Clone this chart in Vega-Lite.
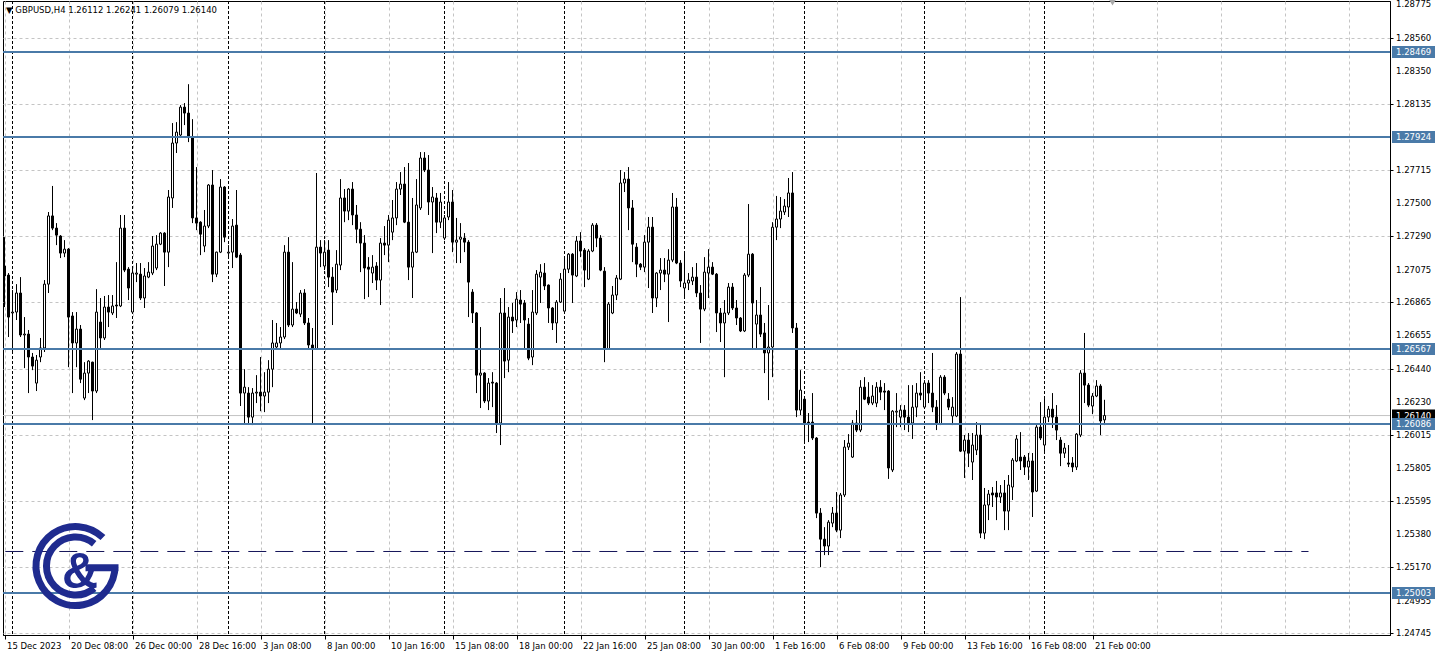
{
"$schema": "https://vega.github.io/schema/vega-lite/v6.json",
"width": 1387, "height": 634,
"autosize": {"type": "none"},
"padding": {"left": 3, "top": 1, "right": 49, "bottom": 22},
"background": "white",
"config": {"view": {"stroke": "black", "strokeWidth": 1}, "font": "DejaVu Sans"},
"datasets": {
"candles": [
{"i":0,"o":1.27098,"h":1.27283,"l":1.26835,"c":1.27034},
{"i":1,"o":1.27040,"h":1.27053,"l":1.26643,"c":1.26771},
{"i":2,"o":1.26797,"h":1.26944,"l":1.26547,"c":1.26803},
{"i":3,"o":1.26803,"h":1.26982,"l":1.26752,"c":1.26925},
{"i":4,"o":1.26925,"h":1.27027,"l":1.26643,"c":1.26656},
{"i":5,"o":1.26656,"h":1.26771,"l":1.26444,"c":1.26662},
{"i":6,"o":1.26662,"h":1.26688,"l":1.26284,"c":1.26515},
{"i":7,"o":1.26515,"h":1.26541,"l":1.26431,"c":1.26457},
{"i":8,"o":1.26348,"h":1.26528,"l":1.26297,"c":1.26495},
{"i":9,"o":1.26515,"h":1.26637,"l":1.26482,"c":1.26573},
{"i":10,"o":1.26573,"h":1.27008,"l":1.26547,"c":1.26982},
{"i":11,"o":1.26982,"h":1.27444,"l":1.26925,"c":1.27419},
{"i":12,"o":1.27419,"h":1.27611,"l":1.27328,"c":1.27341},
{"i":13,"o":1.27341,"h":1.27373,"l":1.27232,"c":1.27296},
{"i":14,"o":1.27290,"h":1.27296,"l":1.27149,"c":1.27181},
{"i":15,"o":1.27181,"h":1.27264,"l":1.27155,"c":1.27206},
{"i":16,"o":1.27206,"h":1.27213,"l":1.26450,"c":1.26771},
{"i":17,"o":1.26778,"h":1.26803,"l":1.26284,"c":1.26605},
{"i":18,"o":1.26605,"h":1.26803,"l":1.26450,"c":1.26694},
{"i":19,"o":1.26694,"h":1.26720,"l":1.26348,"c":1.26373},
{"i":20,"o":1.26252,"h":1.26482,"l":1.26239,"c":1.26412},
{"i":21,"o":1.26412,"h":1.26495,"l":1.26284,"c":1.26489},
{"i":22,"o":1.26482,"h":1.26485,"l":1.26111,"c":1.26297},
{"i":23,"o":1.26297,"h":1.26950,"l":1.26284,"c":1.26803},
{"i":24,"o":1.26739,"h":1.26893,"l":1.26573,"c":1.26637},
{"i":25,"o":1.26637,"h":1.26906,"l":1.26624,"c":1.26835},
{"i":26,"o":1.26835,"h":1.26912,"l":1.26707,"c":1.26803},
{"i":27,"o":1.26797,"h":1.26912,"l":1.26784,"c":1.26842},
{"i":28,"o":1.26848,"h":1.27123,"l":1.26765,"c":1.26842},
{"i":29,"o":1.26842,"h":1.27425,"l":1.26835,"c":1.27341},
{"i":30,"o":1.27341,"h":1.27425,"l":1.27059,"c":1.27072},
{"i":31,"o":1.27078,"h":1.27091,"l":1.26880,"c":1.26957},
{"i":32,"o":1.26803,"h":1.27091,"l":1.26797,"c":1.27053},
{"i":33,"o":1.27046,"h":1.27117,"l":1.26995,"c":1.27053},
{"i":34,"o":1.27046,"h":1.27117,"l":1.26880,"c":1.26893},
{"i":35,"o":1.26893,"h":1.27085,"l":1.26829,"c":1.27034},
{"i":36,"o":1.27027,"h":1.27123,"l":1.27020,"c":1.27059},
{"i":37,"o":1.27053,"h":1.27290,"l":1.27040,"c":1.27226},
{"i":38,"o":1.27085,"h":1.27296,"l":1.27072,"c":1.27238},
{"i":39,"o":1.27238,"h":1.27315,"l":1.27232,"c":1.27309},
{"i":40,"o":1.27309,"h":1.27315,"l":1.26970,"c":1.27187},
{"i":41,"o":1.27187,"h":1.27585,"l":1.27091,"c":1.27540},
{"i":42,"o":1.27534,"h":1.28014,"l":1.27470,"c":1.27886},
{"i":43,"o":1.27886,"h":1.28020,"l":1.27822,"c":1.27956},
{"i":44,"o":1.27937,"h":1.28129,"l":1.27924,"c":1.28116},
{"i":45,"o":1.28116,"h":1.28142,"l":1.28001,"c":1.28078},
{"i":46,"o":1.28078,"h":1.28263,"l":1.27892,"c":1.27924},
{"i":47,"o":1.27924,"h":1.28039,"l":1.27373,"c":1.27406},
{"i":48,"o":1.27406,"h":1.27732,"l":1.27328,"c":1.27373},
{"i":49,"o":1.27379,"h":1.27385,"l":1.27168,"c":1.27302},
{"i":50,"o":1.27226,"h":1.27457,"l":1.27187,"c":1.27354},
{"i":51,"o":1.27354,"h":1.27623,"l":1.27341,"c":1.27617},
{"i":52,"o":1.27617,"h":1.27713,"l":1.26995,"c":1.27046},
{"i":53,"o":1.27046,"h":1.27190,"l":1.27027,"c":1.27187},
{"i":54,"o":1.27187,"h":1.27655,"l":1.27181,"c":1.27604},
{"i":55,"o":1.27604,"h":1.27610,"l":1.27251,"c":1.27283},
{"i":56,"o":1.27181,"h":1.27232,"l":1.27149,"c":1.27187},
{"i":57,"o":1.27187,"h":1.27399,"l":1.27085,"c":1.27354},
{"i":58,"o":1.27360,"h":1.27585,"l":1.27149,"c":1.27155},
{"i":59,"o":1.27168,"h":1.27181,"l":1.26201,"c":1.26284},
{"i":60,"o":1.26284,"h":1.26437,"l":1.26092,"c":1.26322},
{"i":61,"o":1.26284,"h":1.26322,"l":1.26092,"c":1.26130},
{"i":62,"o":1.26130,"h":1.26316,"l":1.26079,"c":1.26284},
{"i":63,"o":1.26284,"h":1.26399,"l":1.26220,"c":1.26290},
{"i":64,"o":1.26290,"h":1.26515,"l":1.26168,"c":1.26265},
{"i":65,"o":1.26265,"h":1.26418,"l":1.26162,"c":1.26290},
{"i":66,"o":1.26290,"h":1.26495,"l":1.26220,"c":1.26437},
{"i":67,"o":1.26437,"h":1.26752,"l":1.26322,"c":1.26605},
{"i":68,"o":1.26579,"h":1.26733,"l":1.26560,"c":1.26605},
{"i":69,"o":1.26605,"h":1.26707,"l":1.26560,"c":1.26643},
{"i":70,"o":1.26643,"h":1.27232,"l":1.26630,"c":1.27187},
{"i":71,"o":1.27187,"h":1.27283,"l":1.26707,"c":1.26720},
{"i":72,"o":1.26720,"h":1.27123,"l":1.26707,"c":1.26822},
{"i":73,"o":1.26822,"h":1.26867,"l":1.26790,"c":1.26797},
{"i":74,"o":1.26790,"h":1.26944,"l":1.26771,"c":1.26925},
{"i":75,"o":1.26925,"h":1.26950,"l":1.26720,"c":1.26733},
{"i":76,"o":1.26733,"h":1.26765,"l":1.26560,"c":1.26592},
{"i":77,"o":1.26592,"h":1.26701,"l":1.26092,"c":1.26566},
{"i":78,"o":1.26566,"h":1.27694,"l":1.26560,"c":1.27219},
{"i":79,"o":1.27219,"h":1.27264,"l":1.27091,"c":1.27181},
{"i":80,"o":1.27098,"h":1.27264,"l":1.27072,"c":1.27187},
{"i":81,"o":1.27200,"h":1.27264,"l":1.26963,"c":1.27027},
{"i":82,"o":1.27027,"h":1.27091,"l":1.26720,"c":1.26931},
{"i":83,"o":1.26944,"h":1.27200,"l":1.26925,"c":1.27110},
{"i":84,"o":1.27104,"h":1.27655,"l":1.27072,"c":1.27534},
{"i":85,"o":1.27534,"h":1.27591,"l":1.27379,"c":1.27450},
{"i":86,"o":1.27450,"h":1.27597,"l":1.27392,"c":1.27591},
{"i":87,"o":1.27591,"h":1.27636,"l":1.27360,"c":1.27425},
{"i":88,"o":1.27425,"h":1.27489,"l":1.27245,"c":1.27334},
{"i":89,"o":1.27334,"h":1.27379,"l":1.27059,"c":1.27245},
{"i":90,"o":1.27245,"h":1.27296,"l":1.26886,"c":1.27085},
{"i":91,"o":1.27091,"h":1.27155,"l":1.26899,"c":1.27078},
{"i":92,"o":1.27053,"h":1.27168,"l":1.26989,"c":1.27091},
{"i":93,"o":1.27098,"h":1.27123,"l":1.26944,"c":1.27008},
{"i":94,"o":1.27008,"h":1.27277,"l":1.26848,"c":1.27245},
{"i":95,"o":1.27245,"h":1.27354,"l":1.27168,"c":1.27232},
{"i":96,"o":1.27232,"h":1.27425,"l":1.27123,"c":1.27392},
{"i":97,"o":1.27315,"h":1.27521,"l":1.27264,"c":1.27406},
{"i":98,"o":1.27406,"h":1.27636,"l":1.27360,"c":1.27591},
{"i":99,"o":1.27591,"h":1.27700,"l":1.27553,"c":1.27623},
{"i":100,"o":1.27623,"h":1.27732,"l":1.27373,"c":1.27379},
{"i":101,"o":1.27379,"h":1.27758,"l":1.27008,"c":1.27091},
{"i":102,"o":1.27091,"h":1.27534,"l":1.26893,"c":1.27187},
{"i":103,"o":1.27187,"h":1.27655,"l":1.27181,"c":1.27489},
{"i":104,"o":1.27470,"h":1.27828,"l":1.27457,"c":1.27790},
{"i":105,"o":1.27790,"h":1.27828,"l":1.27700,"c":1.27713},
{"i":106,"o":1.27713,"h":1.27809,"l":1.27425,"c":1.27508},
{"i":107,"o":1.27508,"h":1.27604,"l":1.27181,"c":1.27540},
{"i":108,"o":1.27534,"h":1.27566,"l":1.27309,"c":1.27379},
{"i":109,"o":1.27379,"h":1.27566,"l":1.27341,"c":1.27508},
{"i":110,"o":1.27277,"h":1.27425,"l":1.27264,"c":1.27406},
{"i":111,"o":1.27412,"h":1.27636,"l":1.27392,"c":1.27508},
{"i":112,"o":1.27508,"h":1.27585,"l":1.27187,"c":1.27251},
{"i":113,"o":1.27251,"h":1.27406,"l":1.27117,"c":1.27264},
{"i":114,"o":1.27270,"h":1.27373,"l":1.27117,"c":1.27283},
{"i":115,"o":1.27277,"h":1.27309,"l":1.27187,"c":1.27251},
{"i":116,"o":1.27251,"h":1.27264,"l":1.26771,"c":1.26995},
{"i":117,"o":1.26931,"h":1.26950,"l":1.26733,"c":1.26797},
{"i":118,"o":1.26797,"h":1.26803,"l":1.26284,"c":1.26399},
{"i":119,"o":1.26399,"h":1.26707,"l":1.26188,"c":1.26412},
{"i":120,"o":1.26412,"h":1.26418,"l":1.26220,"c":1.26233},
{"i":121,"o":1.26233,"h":1.26380,"l":1.26175,"c":1.26348},
{"i":122,"o":1.26354,"h":1.26418,"l":1.26194,"c":1.26348},
{"i":123,"o":1.26348,"h":1.26354,"l":1.26028,"c":1.26092},
{"i":124,"o":1.26092,"h":1.26893,"l":1.25951,"c":1.26797},
{"i":125,"o":1.26797,"h":1.26957,"l":1.26380,"c":1.26489},
{"i":126,"o":1.26495,"h":1.26835,"l":1.26418,"c":1.26771},
{"i":127,"o":1.26771,"h":1.26861,"l":1.26669,"c":1.26746},
{"i":128,"o":1.26752,"h":1.26931,"l":1.26707,"c":1.26886},
{"i":129,"o":1.26880,"h":1.26944,"l":1.26733,"c":1.26854},
{"i":130,"o":1.26861,"h":1.26880,"l":1.26560,"c":1.26752},
{"i":131,"o":1.26726,"h":1.26765,"l":1.26495,"c":1.26508},
{"i":132,"o":1.26515,"h":1.26944,"l":1.26463,"c":1.26803},
{"i":133,"o":1.26797,"h":1.27072,"l":1.26784,"c":1.27046},
{"i":134,"o":1.27027,"h":1.27110,"l":1.26861,"c":1.27059},
{"i":135,"o":1.27053,"h":1.27117,"l":1.26944,"c":1.26970},
{"i":136,"o":1.26976,"h":1.26980,"l":1.26733,"c":1.26829},
{"i":137,"o":1.26829,"h":1.26835,"l":1.26688,"c":1.26733},
{"i":138,"o":1.26733,"h":1.26880,"l":1.26605,"c":1.26867},
{"i":139,"o":1.26867,"h":1.27053,"l":1.26861,"c":1.27014},
{"i":140,"o":1.26809,"h":1.27155,"l":1.26803,"c":1.27078},
{"i":141,"o":1.27078,"h":1.27181,"l":1.27053,"c":1.27174},
{"i":142,"o":1.27174,"h":1.27181,"l":1.26861,"c":1.27040},
{"i":143,"o":1.27034,"h":1.27290,"l":1.27027,"c":1.27258},
{"i":144,"o":1.27258,"h":1.27315,"l":1.27155,"c":1.27194},
{"i":145,"o":1.27200,"h":1.27213,"l":1.26963,"c":1.27072},
{"i":146,"o":1.27014,"h":1.27206,"l":1.27008,"c":1.27194},
{"i":147,"o":1.27194,"h":1.27373,"l":1.27187,"c":1.27360},
{"i":148,"o":1.27360,"h":1.27373,"l":1.27219,"c":1.27277},
{"i":149,"o":1.27277,"h":1.27296,"l":1.27065,"c":1.27072},
{"i":150,"o":1.27065,"h":1.27091,"l":1.26482,"c":1.26566},
{"i":151,"o":1.26566,"h":1.26867,"l":1.26560,"c":1.26854},
{"i":152,"o":1.26797,"h":1.26970,"l":1.26790,"c":1.26912},
{"i":153,"o":1.26912,"h":1.27040,"l":1.26880,"c":1.27021},
{"i":154,"o":1.27014,"h":1.27713,"l":1.27008,"c":1.27630},
{"i":155,"o":1.27630,"h":1.27700,"l":1.27572,"c":1.27655},
{"i":156,"o":1.27655,"h":1.27732,"l":1.27328,"c":1.27470},
{"i":157,"o":1.27470,"h":1.27521,"l":1.27123,"c":1.27238},
{"i":158,"o":1.27219,"h":1.27245,"l":1.27027,"c":1.27110},
{"i":159,"o":1.27110,"h":1.27117,"l":1.27072,"c":1.27091},
{"i":160,"o":1.27091,"h":1.27296,"l":1.27059,"c":1.27251},
{"i":161,"o":1.27251,"h":1.27412,"l":1.26957,"c":1.27347},
{"i":162,"o":1.27347,"h":1.27412,"l":1.26797,"c":1.26893},
{"i":163,"o":1.26893,"h":1.27059,"l":1.26835,"c":1.27053},
{"i":164,"o":1.27053,"h":1.27149,"l":1.26944,"c":1.27072},
{"i":165,"o":1.27072,"h":1.27149,"l":1.26995,"c":1.27046},
{"i":166,"o":1.27046,"h":1.27206,"l":1.26739,"c":1.27136},
{"i":167,"o":1.27136,"h":1.27566,"l":1.27123,"c":1.27476},
{"i":168,"o":1.27476,"h":1.27534,"l":1.27110,"c":1.27117},
{"i":169,"o":1.27117,"h":1.27136,"l":1.26963,"c":1.27002},
{"i":170,"o":1.26957,"h":1.27181,"l":1.26899,"c":1.26989},
{"i":171,"o":1.26989,"h":1.27053,"l":1.26944,"c":1.27008},
{"i":172,"o":1.27002,"h":1.27091,"l":1.26976,"c":1.27027},
{"i":173,"o":1.27027,"h":1.27117,"l":1.26899,"c":1.26925},
{"i":174,"o":1.26925,"h":1.26976,"l":1.26605,"c":1.26822},
{"i":175,"o":1.26822,"h":1.27155,"l":1.26809,"c":1.27059},
{"i":176,"o":1.27053,"h":1.27206,"l":1.26893,"c":1.27091},
{"i":177,"o":1.27091,"h":1.27123,"l":1.27040,"c":1.27046},
{"i":178,"o":1.27046,"h":1.27053,"l":1.26675,"c":1.26797},
{"i":179,"o":1.26797,"h":1.26829,"l":1.26611,"c":1.26733},
{"i":180,"o":1.26733,"h":1.26880,"l":1.26386,"c":1.26797},
{"i":181,"o":1.26797,"h":1.26989,"l":1.26784,"c":1.26963},
{"i":182,"o":1.26963,"h":1.26989,"l":1.26816,"c":1.26829},
{"i":183,"o":1.26829,"h":1.26880,"l":1.26720,"c":1.26765},
{"i":184,"o":1.26765,"h":1.26771,"l":1.26675,"c":1.26682},
{"i":185,"o":1.26682,"h":1.27053,"l":1.26675,"c":1.27040},
{"i":186,"o":1.27040,"h":1.27495,"l":1.27027,"c":1.27174},
{"i":187,"o":1.27174,"h":1.27181,"l":1.26560,"c":1.26861},
{"i":188,"o":1.26726,"h":1.26880,"l":1.26560,"c":1.26784},
{"i":189,"o":1.26784,"h":1.26963,"l":1.26643,"c":1.26662},
{"i":190,"o":1.26669,"h":1.26733,"l":1.26412,"c":1.26541},
{"i":191,"o":1.26541,"h":1.26848,"l":1.26239,"c":1.26579},
{"i":192,"o":1.26579,"h":1.27379,"l":1.26386,"c":1.27347},
{"i":193,"o":1.27347,"h":1.27547,"l":1.27264,"c":1.27399},
{"i":194,"o":1.27399,"h":1.27540,"l":1.27341,"c":1.27450},
{"i":195,"o":1.27444,"h":1.27527,"l":1.27425,"c":1.27482},
{"i":196,"o":1.27476,"h":1.27662,"l":1.27412,"c":1.27566},
{"i":197,"o":1.27566,"h":1.27700,"l":1.26669,"c":1.26701},
{"i":198,"o":1.26701,"h":1.26733,"l":1.26130,"c":1.26175},
{"i":199,"o":1.26175,"h":1.26431,"l":1.26143,"c":1.26303},
{"i":200,"o":1.26245,"h":1.26252,"l":1.25970,"c":1.26092},
{"i":201,"o":1.26098,"h":1.26156,"l":1.25970,"c":1.26092},
{"i":202,"o":1.26098,"h":1.26284,"l":1.25983,"c":1.25996},
{"i":203,"o":1.25996,"h":1.26002,"l":1.25483,"c":1.25515},
{"i":204,"o":1.25515,"h":1.25547,"l":1.25169,"c":1.25348},
{"i":205,"o":1.25348,"h":1.25425,"l":1.25246,"c":1.25304},
{"i":206,"o":1.25304,"h":1.25470,"l":1.25246,"c":1.25457},
{"i":207,"o":1.25451,"h":1.25554,"l":1.25425,"c":1.25515},
{"i":208,"o":1.25515,"h":1.25650,"l":1.25393,"c":1.25406},
{"i":209,"o":1.25406,"h":1.25644,"l":1.25355,"c":1.25631},
{"i":210,"o":1.25631,"h":1.25983,"l":1.25618,"c":1.25938},
{"i":211,"o":1.25938,"h":1.26021,"l":1.25919,"c":1.25963},
{"i":212,"o":1.25874,"h":1.26111,"l":1.25868,"c":1.26092},
{"i":213,"o":1.26092,"h":1.26175,"l":1.26034,"c":1.26047},
{"i":214,"o":1.26047,"h":1.26367,"l":1.26034,"c":1.26322},
{"i":215,"o":1.26322,"h":1.26386,"l":1.26239,"c":1.26245},
{"i":216,"o":1.26258,"h":1.26354,"l":1.26207,"c":1.26220},
{"i":217,"o":1.26220,"h":1.26335,"l":1.26207,"c":1.26265},
{"i":218,"o":1.26220,"h":1.26354,"l":1.26194,"c":1.26322},
{"i":219,"o":1.26322,"h":1.26367,"l":1.26239,"c":1.26290},
{"i":220,"o":1.26297,"h":1.26348,"l":1.26175,"c":1.26290},
{"i":221,"o":1.26297,"h":1.26303,"l":1.25734,"c":1.25804},
{"i":222,"o":1.25791,"h":1.26175,"l":1.25778,"c":1.26168},
{"i":223,"o":1.26162,"h":1.26284,"l":1.26066,"c":1.26168},
{"i":224,"o":1.26130,"h":1.26207,"l":1.26066,"c":1.26175},
{"i":225,"o":1.26175,"h":1.26207,"l":1.26047,"c":1.26130},
{"i":226,"o":1.26130,"h":1.26335,"l":1.26034,"c":1.26092},
{"i":227,"o":1.26092,"h":1.26335,"l":1.25990,"c":1.26194},
{"i":228,"o":1.26194,"h":1.26348,"l":1.26130,"c":1.26284},
{"i":229,"o":1.26284,"h":1.26418,"l":1.26239,"c":1.26271},
{"i":230,"o":1.26194,"h":1.26367,"l":1.26188,"c":1.26348},
{"i":231,"o":1.26348,"h":1.26367,"l":1.26220,"c":1.26284},
{"i":232,"o":1.26284,"h":1.26541,"l":1.26162,"c":1.26194},
{"i":233,"o":1.26194,"h":1.26239,"l":1.26047,"c":1.26085},
{"i":234,"o":1.26085,"h":1.26399,"l":1.26079,"c":1.26386},
{"i":235,"o":1.26386,"h":1.26399,"l":1.26271,"c":1.26284},
{"i":236,"o":1.26245,"h":1.26284,"l":1.26175,"c":1.26194},
{"i":237,"o":1.26137,"h":1.26258,"l":1.26079,"c":1.26194},
{"i":238,"o":1.26137,"h":1.26547,"l":1.26130,"c":1.26534},
{"i":239,"o":1.26534,"h":1.26899,"l":1.25906,"c":1.25912},
{"i":240,"o":1.25912,"h":1.26015,"l":1.25740,"c":1.25983},
{"i":241,"o":1.25983,"h":1.26028,"l":1.25810,"c":1.25899},
{"i":242,"o":1.25842,"h":1.26028,"l":1.25727,"c":1.25951},
{"i":243,"o":1.25919,"h":1.26098,"l":1.25887,"c":1.26015},
{"i":244,"o":1.26015,"h":1.26092,"l":1.25355,"c":1.25387},
{"i":245,"o":1.25387,"h":1.25676,"l":1.25348,"c":1.25567},
{"i":246,"o":1.25567,"h":1.25663,"l":1.25470,"c":1.25637},
{"i":247,"o":1.25644,"h":1.25682,"l":1.25554,"c":1.25631},
{"i":248,"o":1.25644,"h":1.25721,"l":1.25470,"c":1.25618},
{"i":249,"o":1.25618,"h":1.25695,"l":1.25580,"c":1.25644},
{"i":250,"o":1.25644,"h":1.25727,"l":1.25406,"c":1.25528},
{"i":251,"o":1.25528,"h":1.25759,"l":1.25406,"c":1.25695},
{"i":252,"o":1.25682,"h":1.25868,"l":1.25599,"c":1.25855},
{"i":253,"o":1.25849,"h":1.26015,"l":1.25842,"c":1.25990},
{"i":254,"o":1.25874,"h":1.26034,"l":1.25791,"c":1.25849},
{"i":255,"o":1.25874,"h":1.25887,"l":1.25759,"c":1.25810},
{"i":256,"o":1.25810,"h":1.25900,"l":1.25727,"c":1.25849},
{"i":257,"o":1.25849,"h":1.25900,"l":1.25490,"c":1.25650},
{"i":258,"o":1.25656,"h":1.26079,"l":1.25650,"c":1.26066},
{"i":259,"o":1.26066,"h":1.26226,"l":1.25983,"c":1.25996},
{"i":260,"o":1.25951,"h":1.26258,"l":1.25900,"c":1.26130},
{"i":261,"o":1.26130,"h":1.26201,"l":1.26098,"c":1.26181},
{"i":262,"o":1.26181,"h":1.26284,"l":1.26060,"c":1.26130},
{"i":263,"o":1.26130,"h":1.26207,"l":1.25983,"c":1.26047},
{"i":264,"o":1.25983,"h":1.26002,"l":1.25816,"c":1.25899},
{"i":265,"o":1.25899,"h":1.25964,"l":1.25868,"c":1.25932},
{"i":266,"o":1.25836,"h":1.25951,"l":1.25810,"c":1.25829},
{"i":267,"o":1.25836,"h":1.25874,"l":1.25778,"c":1.25810},
{"i":268,"o":1.25810,"h":1.26028,"l":1.25791,"c":1.26021},
{"i":269,"o":1.26015,"h":1.26431,"l":1.26002,"c":1.26412},
{"i":270,"o":1.26412,"h":1.26669,"l":1.26220,"c":1.26335},
{"i":271,"o":1.26335,"h":1.26348,"l":1.26194,"c":1.26207},
{"i":272,"o":1.26201,"h":1.26284,"l":1.26149,"c":1.26265},
{"i":273,"o":1.26265,"h":1.26367,"l":1.26258,"c":1.26329},
{"i":274,"o":1.26329,"h":1.26341,"l":1.26015,"c":1.26105},
{"i":275,"o":1.26112,"h":1.26241,"l":1.26079,"c":1.26140}
],
"levels": [{"p":1.28469},{"p":1.27924},{"p":1.26567},{"p":1.26086},{"p":1.25003}],
"seps": [{"s":2},{"s":32},{"s":56},{"s":80},{"s":110},{"s":140},{"s":170},{"s":200},{"s":230},{"s":260}],
"yticks": [{"v":1.24745},{"v":1.24955},{"v":1.2517},{"v":1.2538},{"v":1.25595},{"v":1.25805},{"v":1.26015},{"v":1.2623},{"v":1.2644},{"v":1.26655},{"v":1.26865},{"v":1.27075},{"v":1.2729},{"v":1.275},{"v":1.27715},{"v":1.27925},{"v":1.28135},{"v":1.2835},{"v":1.2856},{"v":1.28775}]
},
"layer": [
{
"data": {"name": "seps"},
"mark": {"type": "rule", "color": "black", "strokeWidth": 1, "strokeDash": [3, 2]},
"encoding": {
"x": {"field": "s", "type": "quantitative", "title": null,
 "scale": {"domain": [-0.375, 346.375], "nice": false, "zero": false, "padding": 0},
 "axis": {"values": [0,8,16,24,32,40,48,56,64,72,80,88,96,104,112,120,128,136,144,152,160,168,176,184,192,200,208,216,224,232,240,248,256,264,272,280,288,296,304,312,320,328,336,344],
  "labelExpr": "datum.value % 16 === 0 && datum.value <= 272 ? ['15 Dec 2023','20 Dec 08:00','26 Dec 00:00','28 Dec 16:00','3 Jan 08:00','8 Jan 00:00','10 Jan 16:00','15 Jan 08:00','18 Jan 00:00','22 Jan 16:00','25 Jan 08:00','30 Jan 00:00','1 Feb 16:00','6 Feb 08:00','9 Feb 00:00','13 Feb 16:00','16 Feb 08:00','21 Feb 00:00'][datum.value / 16] : ''",
  "grid": true, "gridColor": "#c4c4c4", "gridDash": [3, 3], "gridWidth": 1,
  "domain": true, "domainColor": "black", "domainWidth": 1,
  "ticks": true, "tickSize": 4, "tickColor": "black",
  "tickOpacity": {"condition": {"test": "datum.value % 16 === 0 && datum.value <= 272", "value": 1}, "value": 0},
  "labelAlign": "left", "labelBaseline": "top", "labelPadding": 2, "labelOffset": 2,
  "labelFont": "DejaVu Sans", "labelFontSize": 8.5, "labelColor": "black",
  "labelOverlap": false, "labelFlush": false, "labelBound": false, "title": null}}
}
},
{
"data": {"values": [{"p": 1.2614}]},
"mark": {"type": "rule", "color": "#c4c4c4", "strokeWidth": 1},
"encoding": {
"y": {"field": "p", "type": "quantitative", "title": null,
 "scale": {"domain": [1.24734, 1.28796], "nice": false, "zero": false},
 "axis": {"orient": "right", "values": [1.24745,1.24955,1.2517,1.2538,1.25595,1.25805,1.26015,1.2623,1.2644,1.26655,1.26865,1.27075,1.2729,1.275,1.27715,1.27925,1.28135,1.2835,1.2856,1.28775],
  "labels": false, "grid": true, "gridColor": "#c4c4c4", "gridDash": [3, 3], "gridWidth": 1,
  "domain": true, "domainColor": "black", "tickSize": 3, "tickColor": "black", "title": null}}
}
},
{
"data": {"name": "yticks"},
"mark": {"type": "text", "align": "left", "baseline": "middle", "font": "DejaVu Sans", "fontSize": 8.5, "color": "black"},
"encoding": {
"x": {"datum": 347.9, "type": "quantitative", "title": null, "scale": {"domain": [-0.375, 346.375], "nice": false, "zero": false, "padding": 0}},
"y": {"field": "v", "type": "quantitative", "title": null, "scale": {"domain": [1.24734, 1.28796], "nice": false, "zero": false}},
"text": {"field": "v", "type": "quantitative", "format": ".5f"}
}
},
{
"data": {"name": "candles"},
"mark": {"type": "rule", "color": "black", "strokeWidth": 1},
"encoding": {
"x": {"field": "i", "type": "quantitative", "title": null, "scale": {"domain": [-0.375, 346.375], "nice": false, "zero": false, "padding": 0}},
"y": {"field": "l", "type": "quantitative", "title": null, "scale": {"domain": [1.24734, 1.28796], "nice": false, "zero": false}},
"y2": {"field": "h"}
}
},
{
"data": {"name": "candles"},
"mark": {"type": "bar", "width": 2, "stroke": "black", "strokeWidth": 1},
"encoding": {
"x": {"field": "i", "type": "quantitative", "title": null, "scale": {"domain": [-0.375, 346.375], "nice": false, "zero": false, "padding": 0}},
"y": {"field": "o", "type": "quantitative", "title": null, "scale": {"domain": [1.24734, 1.28796], "nice": false, "zero": false}},
"y2": {"field": "c"},
"fill": {"condition": {"test": "datum.c >= datum.o", "value": "white"}, "value": "black"}
}
},
{
"data": {"name": "levels"},
"mark": {"type": "rule", "color": "#4a7aa8", "strokeWidth": 2},
"encoding": {
"y": {"field": "p", "type": "quantitative", "title": null, "scale": {"domain": [1.24734, 1.28796], "nice": false, "zero": false}}
}
},
{
"data": {"values": [{}]},
"mark": {"type": "rule", "color": "#16165a", "strokeWidth": 1, "strokeDash": [18, 9]},
"encoding": {
"x": {"datum": 0.2, "type": "quantitative", "title": null, "scale": {"domain": [-0.375, 346.375], "nice": false, "zero": false, "padding": 0}},
"x2": {"datum": 326},
"y": {"datum": 1.25269, "type": "quantitative", "title": null, "scale": {"domain": [1.24734, 1.28796], "nice": false, "zero": false}}
}
},
{
"data": {"values": [{"p": 1.2614}]},
"mark": {"type": "point", "shape": "M-1,-0.28H1V0.28H-1Z", "filled": true, "opacity": 1, "size": 1849, "color": "black", "strokeWidth": 0},
"encoding": {
"x": {"datum": 352.25, "type": "quantitative", "title": null, "scale": {"domain": [-0.375, 346.375], "nice": false, "zero": false, "padding": 0}},
"y": {"field": "p", "type": "quantitative", "title": null, "scale": {"domain": [1.24734, 1.28796], "nice": false, "zero": false}}
}
},
{
"data": {"values": [{"p": 1.2614}]},
"mark": {"type": "text", "align": "left", "baseline": "middle", "font": "DejaVu Sans", "fontSize": 8.5, "color": "white"},
"encoding": {
"x": {"datum": 347.9, "type": "quantitative", "title": null, "scale": {"domain": [-0.375, 346.375], "nice": false, "zero": false, "padding": 0}},
"y": {"field": "p", "type": "quantitative", "title": null, "scale": {"domain": [1.24734, 1.28796], "nice": false, "zero": false}},
"text": {"field": "p", "type": "quantitative", "format": ".5f"}
}
},
{
"data": {"name": "levels"},
"mark": {"type": "point", "shape": "M-1,-0.28H1V0.28H-1Z", "filled": true, "opacity": 1, "size": 1849, "color": "#4a7aa8", "strokeWidth": 0},
"encoding": {
"x": {"datum": 352.25, "type": "quantitative", "title": null, "scale": {"domain": [-0.375, 346.375], "nice": false, "zero": false, "padding": 0}},
"y": {"field": "p", "type": "quantitative", "title": null, "scale": {"domain": [1.24734, 1.28796], "nice": false, "zero": false}}
}
},
{
"data": {"name": "levels"},
"mark": {"type": "text", "align": "left", "baseline": "middle", "font": "DejaVu Sans", "fontSize": 8.5, "color": "white"},
"encoding": {
"x": {"datum": 347.9, "type": "quantitative", "title": null, "scale": {"domain": [-0.375, 346.375], "nice": false, "zero": false, "padding": 0}},
"y": {"field": "p", "type": "quantitative", "title": null, "scale": {"domain": [1.24734, 1.28796], "nice": false, "zero": false}},
"text": {"field": "p", "type": "quantitative", "format": ".5f"}
}
},
{
"data": {"values": [{}]},
"mark": {"type": "point", "shape": "M0.638,-0.661A0.919,0.919,0,1,0,0.919,0M1,0.04H0.233M0.434,-0.517A0.675,0.675,0,1,0,0.434,0.517", "filled": false, "opacity": 1, "size": 7396, "color": "#1f2b8f", "strokeWidth": 7, "strokeCap": "butt"},
"encoding": {
"x": {"datum": 17.75, "type": "quantitative", "title": null, "scale": {"domain": [-0.375, 346.375], "nice": false, "zero": false, "padding": 0}},
"y": {"datum": 1.25176, "type": "quantitative", "title": null, "scale": {"domain": [1.24734, 1.28796], "nice": false, "zero": false}}
}
},
{
"data": {"values": [{"t": "&"}]},
"mark": {"type": "text", "align": "center", "baseline": "alphabetic", "font": "Liberation Sans", "fontWeight": "bold", "fontSize": 50, "color": "#1f2b8f"},
"encoding": {
"x": {"datum": 18.9, "type": "quantitative", "title": null, "scale": {"domain": [-0.375, 346.375], "nice": false, "zero": false, "padding": 0}},
"y": {"datum": 1.25035, "type": "quantitative", "title": null, "scale": {"domain": [1.24734, 1.28796], "nice": false, "zero": false}},
"text": {"field": "t"}
}
},
{
"data": {"values": [{"t": "▼  GBPUSD,H4  1.26112 1.26241 1.26079 1.26140"}]},
"mark": {"type": "text", "align": "left", "baseline": "middle", "font": "DejaVu Sans", "fontSize": 8.5, "color": "black"},
"encoding": {
"x": {"datum": 0.4, "type": "quantitative", "title": null, "scale": {"domain": [-0.375, 346.375], "nice": false, "zero": false, "padding": 0}},
"y": {"datum": 1.28738, "type": "quantitative", "title": null, "scale": {"domain": [1.24734, 1.28796], "nice": false, "zero": false}},
"text": {"field": "t"}
}
},
{
"data": {"values": [{}]},
"mark": {"type": "point", "shape": "triangle-down", "filled": true, "opacity": 1, "size": 45, "color": "#a8a8a8"},
"encoding": {
"x": {"datum": 277, "type": "quantitative", "title": null, "scale": {"domain": [-0.375, 346.375], "nice": false, "zero": false, "padding": 0}},
"y": {"datum": 1.28785, "type": "quantitative", "title": null, "scale": {"domain": [1.24734, 1.28796], "nice": false, "zero": false}}
}
}
]
}
